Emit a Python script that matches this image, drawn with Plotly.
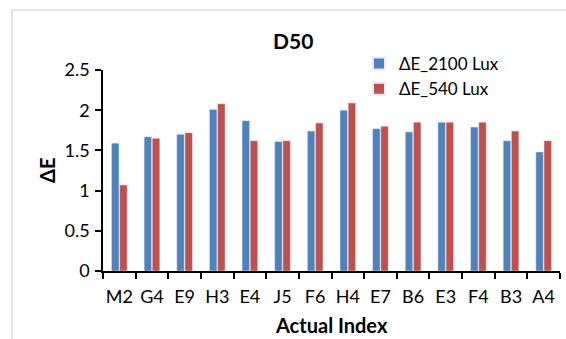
import plotly.graph_objects as go

# Sample indices and colour-difference values
categories = ["M2", "G4", "E9", "H3", "E4", "J5", "F6", "H4", "E7", "B6", "E3", "F4", "B3", "A4"]
de_2100 = [1.59, 1.67, 1.70, 2.01, 1.87, 1.61, 1.74, 2.00, 1.77, 1.73, 1.85, 1.79, 1.62, 1.48]
de_540 = [1.07, 1.65, 1.72, 2.08, 1.62, 1.62, 1.84, 2.09, 1.80, 1.85, 1.85, 1.85, 1.74, 1.62]
y_ticks = [0, 0.5, 1, 1.5, 2, 2.5]
y_tick_text = ["0", "0.5", "1", "1.5", "2", "2.5"]

FONT = "Lato, 'Open Sans', sans-serif"

fig = go.Figure()
fig.add_trace(go.Bar(x=categories, y=de_2100, name="ΔE_2100 Lux", marker_color="#4F81BD"))
fig.add_trace(go.Bar(x=categories, y=de_540, name="ΔE_540 Lux", marker_color="#C0504D"))

W, H = 566, 339
L, R, T, B = 103, 6, 70, 68
pw, ph = W - L - R, H - T - B

fig.update_layout(
    width=W, height=H,
    margin=dict(l=L, r=R, t=T, b=B, pad=0),
    paper_bgcolor="white", plot_bgcolor="white",
    font=dict(family=FONT, size=18, color="#000000"),
    barmode="group", bargap=0.5, bargroupgap=0.08,
    showlegend=True,
    legend=dict(x=(359 - L) / pw, y=(H - B - 46) / ph, xanchor="left", yanchor="top",
                bgcolor="rgba(0,0,0,0)", font=dict(size=17), itemsizing="constant",
                tracegroupgap=0, itemwidth=30),
    xaxis=dict(showline=True, linecolor="#000000", linewidth=1.5, ticks="outside",
               tickson="boundaries", ticklen=6, tickcolor="#000000", tickwidth=1.5,
               showgrid=False, tickfont=dict(size=18), tickangle=0, ticklabelstandoff=9),
    yaxis=dict(range=[0, 2.5], tickvals=y_ticks, ticktext=y_tick_text, showline=True,
               linecolor="#000000", linewidth=1.5, ticks="outside", ticklen=6,
               tickcolor="#000000", tickwidth=1.5, showgrid=False, zeroline=False,
               tickfont=dict(size=18), ticklabelstandoff=2),
    annotations=[
        dict(text="<b>D50</b>", x=(293 - L) / pw, y=(H - B - 40) / ph, xref="paper", yref="paper",
             showarrow=False, font=dict(size=21), xanchor="center", yanchor="middle"),
        dict(text="<b>ΔE</b>", x=(47 - L) / pw, y=(H - B - 171) / ph, xref="paper", yref="paper",
             showarrow=False, font=dict(size=20), textangle=-90, xanchor="center", yanchor="middle"),
        dict(text="<b>Actual Index</b>", x=(331 - L) / pw, y=(H - B - 325) / ph, xref="paper",
             yref="paper", showarrow=False, font=dict(size=20), xanchor="center", yanchor="middle"),
    ],
    shapes=[
        dict(type="line", xref="paper", yref="paper", x0=(12 - L) / pw, x1=(12 - L) / pw,
             y0=(H - B - 345) / ph, y1=(H - B - 10) / ph, line=dict(color="#D9D9D9", width=1.5)),
        dict(type="line", xref="paper", yref="paper", x0=(12 - L) / pw, x1=(570 - L) / pw,
             y0=(H - B - 10) / ph, y1=(H - B - 10) / ph, line=dict(color="#D9D9D9", width=1.5)),
    ],
)

fig.write_html("out.html")
